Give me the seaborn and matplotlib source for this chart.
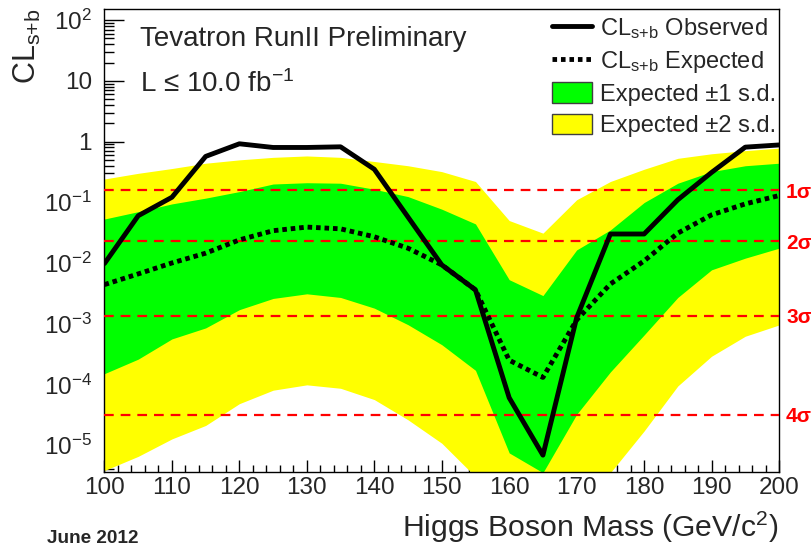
import numpy as np
import pandas as pd
import matplotlib
matplotlib.use("Agg")
import matplotlib.pyplot as plt
import seaborn as sns
from matplotlib.ticker import FixedLocator, FuncFormatter, LogLocator, NullFormatter, MultipleLocator
from matplotlib.lines import Line2D
from matplotlib.patches import Patch

# ---------------- data ----------------
mass = [100, 105, 110, 115, 120, 125, 130, 135, 140, 145, 150,
        155, 160, 165, 170, 175, 180, 185, 190, 195, 200]
observed = [0.0098, 0.060, 0.121, 0.57, 0.92, 0.80, 0.80, 0.82, 0.35, 0.057, 0.0093,
            0.0036, 6.0e-5, 6.8e-6, 0.00125, 0.030, 0.030, 0.11, 0.31, 0.81, 0.88]
expected = [0.0044, 0.0066, 0.010, 0.0145, 0.024, 0.034, 0.039, 0.0365, 0.027, 0.0175, 0.0093,
            0.0036, 2.5e-4, 1.3e-4, 0.00115, 0.0045, 0.0108, 0.031, 0.062, 0.094, 0.129]
band1_lo = [1.5e-4, 2.6e-4, 5.6e-4, 8.5e-4, 0.0017, 0.0026, 0.0031, 0.0027, 0.0018, 9.6e-4, 4.5e-4,
            1.7e-4, 7.4e-6, 3.5e-6, 3.2e-5, 1.6e-4, 6.5e-4, 0.0027, 0.0077, 0.012, 0.0175]
band1_hi = [0.053, 0.070, 0.094, 0.117, 0.15, 0.20, 0.21, 0.206, 0.164, 0.124, 0.077,
            0.044, 0.0053, 0.0029, 0.0164, 0.035, 0.099, 0.206, 0.32, 0.40, 0.44]
band2_lo = [3.8e-6, 6.5e-6, 1.26e-5, 2.1e-5, 4.8e-5, 8.0e-5, 9.8e-5, 8.6e-5, 5.6e-5, 2.6e-5, 1.07e-5,
            3.0e-6, 1e-7, 1e-7, 1e-7, 3.5e-6, 1.7e-5, 9.4e-5, 2.9e-4, 6.2e-4, 9.5e-4]
band2_hi = [0.242, 0.30, 0.36, 0.44, 0.50, 0.55, 0.58, 0.55, 0.47, 0.40, 0.32,
            0.22, 0.050, 0.031, 0.11, 0.22, 0.35, 0.53, 0.63, 0.71, 0.78]
sigma_p = [0.1587, 0.02275, 0.00135, 3.167e-5]
sigma_labels = ["1σ", "2σ", "3σ", "4σ"]
x_ticks = [100, 110, 120, 130, 140, 150, 160, 170, 180, 190, 200]
y_ticks = [1e-5, 1e-4, 1e-3, 1e-2, 1e-1, 1, 10, 100]

df = pd.DataFrame({"mass": mass, "observed": observed, "expected": expected})

# ---------------- style ----------------
sns.set_style("white")
plt.rcParams["font.family"] = ["Liberation Sans", "DejaVu Sans"]
plt.rcParams["mathtext.fontset"] = "custom"
plt.rcParams["mathtext.rm"] = "Liberation Sans"
plt.rcParams["mathtext.it"] = "Liberation Sans:italic"
plt.rcParams["mathtext.bf"] = "Liberation Sans:bold"
plt.rcParams["mathtext.default"] = "regular"
plt.rcParams["lines.scale_dashes"] = False
plt.rcParams["axes.unicode_minus"] = True

YELLOW = "#ffff00"
GREEN = "#00ff00"

fig = plt.figure(figsize=(8.11, 5.48), dpi=100)
ax = fig.add_axes([0.12885, 0.13923, 0.83169, 0.84380])

ax.fill_between(mass, band2_lo, band2_hi, color=YELLOW, lw=0, zorder=1)
ax.fill_between(mass, band1_lo, band1_hi, color=GREEN, lw=0, zorder=2)

for p in sigma_p:
    ax.axhline(p, color="#ff0000", lw=1.6, linestyle=(0, (7, 5)), zorder=3)

sns.lineplot(data=df, x="mass", y="expected", ax=ax, color="black", lw=3.5,
             linestyle=(0, (3.3, 2.8)), zorder=4, legend=False)
sns.lineplot(data=df, x="mass", y="observed", ax=ax, color="black", lw=3.5,
             zorder=5, legend=False)

ax.set_yscale("log")
ax.set_xlim(100, 200)
ax.set_ylim(10 ** -5.44, 10 ** 2.18)

# ticks
ax.xaxis.set_major_locator(FixedLocator(x_ticks))
ax.xaxis.set_minor_locator(MultipleLocator(2))
ax.yaxis.set_major_locator(FixedLocator(y_ticks))
ax.yaxis.set_minor_locator(LogLocator(base=10, subs=np.arange(2, 10), numticks=20))
ax.yaxis.set_minor_formatter(NullFormatter())


def yfmt(v, pos):
    e = int(round(np.log10(v)))
    if e == 0:
        return "1"
    if e == 1:
        return "10"
    return r"$10^{%d}$" % e


ax.yaxis.set_major_formatter(FuncFormatter(yfmt))
ax.tick_params(axis="x", which="major", direction="in", length=9, width=1.0,
               labelsize=17.5, pad=4, bottom=True, top=False, color="black")
ax.tick_params(axis="x", which="minor", direction="in", length=4.8, width=1.0,
               bottom=True, top=False, color="black")
ax.tick_params(axis="y", which="major", direction="in", length=14.4, width=1.0,
               labelsize=17.5, pad=9, left=True, right=False, color="black")
ax.tick_params(axis="y", which="minor", direction="in", length=7.5, width=1.0,
               left=True, right=False, color="black")
for s in ax.spines.values():
    s.set_color("black")
    s.set_linewidth(1.0)
ax.set_xlabel("")
ax.set_ylabel("")

# sigma labels
for p, lab in zip(sigma_p, sigma_labels):
    ax.text(1.0104, p, lab, transform=ax.get_yaxis_transform(), color="#ff0000",
            fontsize=15, fontweight="bold", ha="left", va="center_baseline")

# texts
fig.text(140 / 811, 1 - 46 / 548, "Tevatron RunII Preliminary",
         fontsize=20, ha="left", va="baseline")
fig.text(140 / 811, 1 - 91.7 / 548, r"L ≤ 10.0 fb$^{-1}$",
         fontsize=20, ha="left", va="baseline")
fig.text(778 / 811, 1 - 537 / 548, r"Higgs Boson Mass (GeV/c$^{2}$)", fontsize=21.7,
         ha="right", va="baseline")
fig.text(27 / 811, 1 - 8 / 548, r"CL$_{\text{s+b}}$", fontsize=22, rotation=90,
         ha="center", va="top")
fig.text(47 / 811, 1 - 543 / 548, "June 2012", fontsize=13.7, fontweight="bold",
         ha="left", va="baseline")

# legend
handles = [
    Line2D([], [], color="black", lw=3.5),
    Line2D([], [], color="black", lw=3.5, linestyle=(0, (3.3, 2.8))),
    Patch(facecolor=GREEN, edgecolor="#404040", lw=1.0),
    Patch(facecolor=YELLOW, edgecolor="#404040", lw=1.0),
]
labels = [r"CL$_{\text{s+b}}$ Observed", r"CL$_{\text{s+b}}$ Expected",
          "Expected ±1 s.d.", "Expected ±2 s.d."]
fs = 17
leg = ax.legend(handles, labels, loc="upper left",
                bbox_to_anchor=(552 / 811, 1 - 16 / 548), bbox_transform=fig.transFigure,
                frameon=False, fontsize=fs, handlelength=40 / (fs / 0.72),
                handleheight=0.95, handletextpad=0.36, labelspacing=0.33, borderpad=0,
                borderaxespad=0)

fig.savefig("out.png", dpi=100)
